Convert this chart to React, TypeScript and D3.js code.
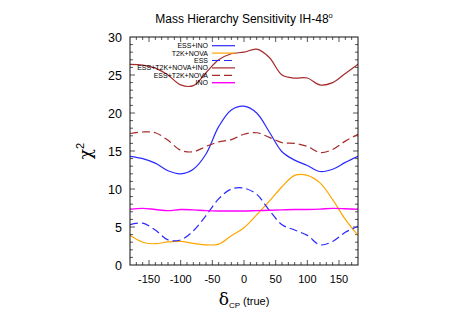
import React, { useEffect, useRef } from 'react';
import * as d3 from 'd3';

// Mass hierarchy sensitivity, chi^2 vs true delta_CP

const deltaCP = [-180, -160, -140, -120, -100, -80, -60, -40, -20, 0, 20, 40, 60, 80, 100, 120, 140, 160, 180];

const essIno = [14.3, 14.0, 13.4, 12.4, 12.0, 12.6, 14.6, 18.2, 20.4, 20.9, 20.0, 17.5, 14.9, 13.8, 13.1, 12.3, 12.6, 13.5, 14.3];
const t2kNova = [3.9, 3.0, 2.8, 3.05, 3.1, 2.85, 2.65, 2.75, 3.85, 4.9, 6.6, 8.4, 10.3, 11.8, 11.8, 10.8, 8.6, 6.0, 3.9];
const ess = [5.3, 5.5, 4.6, 3.3, 3.3, 4.5, 6.5, 8.7, 10.0, 10.1, 9.3, 7.2, 5.3, 4.6, 3.9, 2.65, 3.1, 4.3, 5.1];
const essT2kNovaIno = [26.4, 26.3, 25.9, 25.0, 23.7, 23.6, 25.3, 27.0, 27.8, 28.0, 28.4, 27.3, 25.0, 24.6, 24.6, 23.7, 24.0, 25.2, 26.4];
const essT2kNova = [17.3, 17.5, 17.4, 16.4, 15.1, 14.9, 15.6, 16.2, 16.5, 17.2, 17.4, 16.8, 16.1, 16.0, 15.6, 14.8, 15.2, 16.3, 17.2];
const ino = [7.33, 7.45, 7.3, 7.15, 7.3, 7.25, 7.15, 7.1, 7.1, 7.1, 7.15, 7.2, 7.25, 7.3, 7.3, 7.35, 7.45, 7.4, 7.33];

const xTicks = [-150, -100, -50, 0, 50, 100, 150];
const yTicks = [0, 5, 10, 15, 20, 25, 30];

const series = [
  { name: 'ESS+INO', values: essIno, color: '#2a2aff', dash: null, width: 1.2 },
  { name: 'T2K+NOVA', values: t2kNova, color: '#ffa500', dash: null, width: 1.2 },
  { name: 'ESS', values: ess, color: '#2a2aff', dash: '8,4', width: 1.2 },
  { name: 'ESS+T2K+NOVA+INO', values: essT2kNovaIno, color: '#a52a2a', dash: null, width: 1.2 },
  { name: 'ESS+T2K+NOVA', values: essT2kNova, color: '#a52a2a', dash: '8,4', width: 1.2 },
  { name: 'INO', values: ino, color: '#ff00ff', dash: null, width: 1.4 },
];

export default function App() {
  const ref = useRef<SVGSVGElement>(null);

  useEffect(() => {
    const margin = { top: 37, right: 99, bottom: 54, left: 130 };
    const W = 457, H = 319;
    const w = W - margin.left - margin.right;
    const h = H - margin.top - margin.bottom;

    const svg = d3.select(ref.current);
    svg.selectAll('*').remove();
    const g = svg.append('g').attr('transform', `translate(${margin.left},${margin.top})`);

    const x = d3.scaleLinear().domain([-180, 180]).range([0, w]);
    const y = d3.scaleLinear().domain([0, 30]).range([h, 0]);

    const font = 'Liberation Sans, Arial, sans-serif';
    const tickColor = '#555';

    // minor + major ticks, mirrored on all sides
    const xMinor = d3.range(-170, 180, 10);
    const yMinor = d3.range(1, 30, 1);
    xMinor.forEach(v => {
      const len = xTicks.includes(v) ? 5 : 3;
      g.append('line').attr('x1', x(v)).attr('x2', x(v)).attr('y1', h).attr('y2', h - len).attr('stroke', tickColor);
      g.append('line').attr('x1', x(v)).attr('x2', x(v)).attr('y1', 0).attr('y2', len).attr('stroke', tickColor);
    });
    yMinor.forEach(v => {
      const len = yTicks.includes(v) ? 5 : 3;
      g.append('line').attr('x1', 0).attr('x2', len).attr('y1', y(v)).attr('y2', y(v)).attr('stroke', tickColor);
      g.append('line').attr('x1', w).attr('x2', w - len).attr('y1', y(v)).attr('y2', y(v)).attr('stroke', tickColor);
    });

    // curves
    const line = d3.line<number>()
      .x((d, i) => x(deltaCP[i]))
      .y(d => y(d))
      .curve(d3.curveCatmullRom.alpha(0.5));

    const clip = svg.append('clipPath').attr('id', 'plotclip');
    clip.append('rect').attr('width', w).attr('height', h);

    const curves = g.append('g').attr('clip-path', 'url(#plotclip)');
    series.forEach(s => {
      curves.append('path')
        .attr('d', line(s.values))
        .attr('fill', 'none')
        .attr('stroke', s.color)
        .attr('stroke-width', s.width)
        .attr('stroke-dasharray', s.dash);
    });

    // frame
    g.append('rect').attr('width', w).attr('height', h)
      .attr('fill', 'none').attr('stroke', '#111').attr('stroke-width', 1);

    // tick labels
    g.selectAll('.xl').data(xTicks).join('text')
      .attr('x', d => x(d)).attr('y', h + 18)
      .attr('text-anchor', 'middle')
      .attr('font-family', font).attr('font-size', 11)
      .text(d => d);

    g.selectAll('.yl').data(yTicks).join('text')
      .attr('x', -8).attr('y', d => y(d) + 4.5)
      .attr('text-anchor', 'end')
      .attr('font-family', font).attr('font-size', 12.5)
      .text(d => d);

    // legend
    series.forEach((s, i) => {
      const ly = 8.7 + i * 7.4;
      g.append('text')
        .attr('x', 78).attr('y', ly + 2.5)
        .attr('text-anchor', 'end')
        .attr('font-family', font).attr('font-size', 7)
        .text(s.name);
      g.append('line')
        .attr('x1', 82).attr('x2', 105).attr('y1', ly).attr('y2', ly)
        .attr('stroke', s.color).attr('stroke-width', s.width)
        .attr('stroke-dasharray', s.dash);
    });

    // title
    const title = svg.append('text')
      .attr('x', 244).attr('y', 23)
      .attr('text-anchor', 'middle')
      .attr('font-family', font).attr('font-size', 12);
    title.append('tspan').text('Mass Hierarchy Sensitivity IH-48');
    title.append('tspan').attr('font-size', 7.5).attr('dy', -5).text('o');

    // x label
    const xl = svg.append('text')
      .attr('x', 244).attr('y', 305)
      .attr('text-anchor', 'middle')
      .attr('font-family', font).attr('font-size', 11);
    xl.append('tspan').attr('font-size', 17).attr('font-family', 'DejaVu Serif, serif').text('δ');
    xl.append('tspan').attr('font-size', 8).attr('dy', 3).text('CP');
    xl.append('tspan').attr('dy', -3).text(' (true)');

    // y label
    const yl = svg.append('text')
      .attr('transform', `translate(91,${margin.top + h / 2}) rotate(-90)`)
      .attr('text-anchor', 'middle')
      .attr('font-family', font).attr('font-size', 17);
    yl.append('tspan').attr('font-family', 'DejaVu Serif, serif').text('χ');
    yl.append('tspan').attr('font-size', 11).attr('dy', -7).text('2');
  }, []);

  return (
    <svg ref={ref} width={457} height={319}
      style={{ position: 'absolute', left: 0, top: 0, background: '#fff' }} />
  );
}
